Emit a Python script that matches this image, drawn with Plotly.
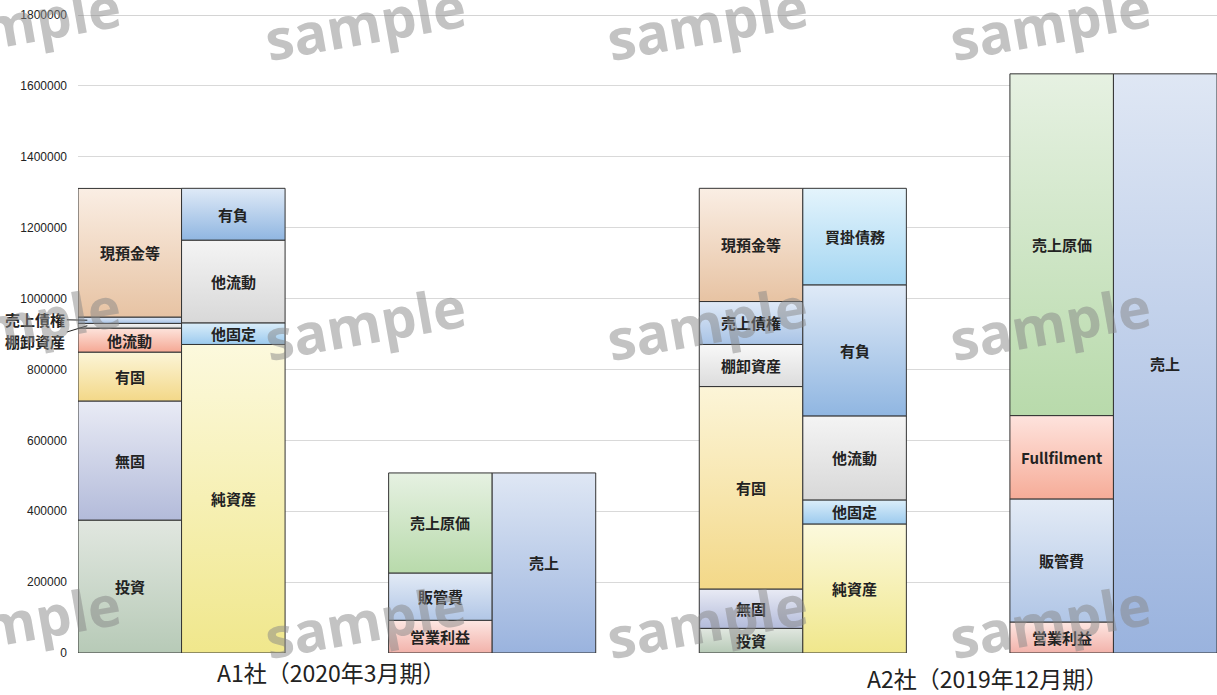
import plotly.graph_objects as go
import numpy as np

# ---- データ（単位：千円） ----
a1_assets_labels = ["投資", "無固", "有固", "他流動", "棚卸資産", "売上債権", "現預金等"]
a1_assets_values = [375000, 336000, 138000, 67700, 13300, 17800, 362900]

a1_liab_labels = ["純資産", "他固定", "他流動", "有負"]
a1_liab_values = [870500, 61000, 233400, 146100]

a1_cost_labels = ["営業利益", "販管費", "売上原価"]
a1_cost_values = [92300, 133500, 282200]

a1_sales_labels = ["売上"]
a1_sales_values = [508000]

a2_assets_labels = ["投資", "無固", "有固", "棚卸資産", "売上債権", "現預金等"]
a2_assets_values = [69600, 111000, 571100, 118800, 121100, 319400]

a2_liab_labels = ["純資産", "他固定", "他流動", "有負", "買掛債務"]
a2_liab_values = [364100, 67800, 237100, 369700, 272300]

a2_cost_labels = ["営業利益", "販管費", "Fullfilment", "売上原価"]
a2_cost_values = [87500, 347200, 235100, 964200]

a2_sales_labels = ["売上"]
a2_sales_values = [1634000]

company_labels = ["A1社（2020年3月期）", "A2社（2019年12月期）"]
y_ticks = [0, 200000, 400000, 600000, 800000, 1000000, 1200000, 1400000, 1600000, 1800000]

# 科目ごとのグラデーション（上端色, 下端色）
asset_colors = {
    "投資": ("#e1e7e0", "#b7cab7"),
    "無固": ("#e9ebf5", "#b3bbda"),
    "有固": ("#fcf5d8", "#f3d888"),
    "他流動": ("#fde4dc", "#f5a894"),
    "棚卸資産": ("#f8f8f8", "#dcdcdc"),
    "売上債権": ("#e0eaf7", "#a8c3e6"),
    "現預金等": ("#faeee4", "#e7c3a3"),
}
liab_colors = {
    "純資産": ("#fcf9dd", "#f0e78c"),
    "他固定": ("#dbeefa", "#9ccaee"),
    "他流動": ("#f4f4f4", "#d8d8d8"),
    "有負": ("#dfeaf7", "#90b6e1"),
    "買掛債務": ("#e4f4fc", "#a4d6f2"),
}
pl_colors = {
    "営業利益": ("#fde7e3", "#f2b2aa"),
    "販管費": ("#e3ebf6", "#b1c6e6"),
    "Fullfilment": ("#fee3dd", "#f6ac98"),
    "売上原価": ("#e6f1e2", "#b8daab"),
    "売上": ("#dfe7f4", "#9ab3de"),
}

# 各列の左端位置（列幅 = 1）
columns = [
    (0, a1_assets_labels, a1_assets_values, asset_colors),
    (1, a1_liab_labels, a1_liab_values, liab_colors),
    (3, a1_cost_labels, a1_cost_values, pl_colors),
    (4, a1_sales_labels, a1_sales_values, pl_colors),
    (6, a2_assets_labels, a2_assets_values, asset_colors),
    (7, a2_liab_labels, a2_liab_values, liab_colors),
    (9, a2_cost_labels, a2_cost_values, pl_colors),
    (10, a2_sales_labels, a2_sales_values, pl_colors),
]
outside_labels = {(0, "棚卸資産"), (0, "売上債権")}

label_font = dict(family="Noto Sans CJK JP", size=15, color="#222222", weight="bold")

fig = go.Figure()
annotations = []
segment_mid = {}

for left, labels, values, cmap in columns:
    tops = np.cumsum(values)
    bottoms = tops - np.array(values)
    for lab, b, t in zip(labels, bottoms, tops):
        top_c, bot_c = cmap[lab]
        fig.add_trace(go.Scatter(
            x=[left, left + 1, left + 1, left, left],
            y=[b, b, t, t, b],
            mode="lines",
            fill="toself",
            fillgradient=dict(type="vertical", colorscale=[[0, bot_c], [1, top_c]]),
            line=dict(color="#333333", width=1),
            hoverinfo="skip",
            showlegend=False,
        ))
        mid = (b + t) / 2
        segment_mid[(left, lab)] = mid
        if (left, lab) in outside_labels:
            continue
        annotations.append(dict(
            x=left + 0.5, y=mid, xref="x", yref="y", text=lab,
            showarrow=False, font=label_font,
        ))

# 薄い区分は外側に引き出し線付きで表示
annotations.append(dict(
    x=0.09, y=segment_mid[(0, "売上債権")], xref="x", yref="y",
    text="売上債権", showarrow=True, arrowhead=0, arrowwidth=1, arrowcolor="#222222",
    ax=-52, ay=-1, font=label_font,
))
annotations.append(dict(
    x=0.09, y=segment_mid[(0, "棚卸資産")], xref="x", yref="y",
    text="棚卸資産", showarrow=True, arrowhead=0, arrowwidth=1, arrowcolor="#222222",
    ax=-52, ay=16, font=label_font,
))

# 会社名ラベル
cat_font = dict(family="Noto Sans CJK JP", size=23, color="#222222")
annotations.append(dict(x=2.45, y=0, xref="x", yref="y", yanchor="middle", yshift=-19,
                        text=company_labels[0], showarrow=False, font=cat_font))
annotations.append(dict(x=8.78, y=0, xref="x", yref="y", yanchor="middle", yshift=-25,
                        text=company_labels[1], showarrow=False, font=cat_font))

# 透かし文字
W, H, L, T = 1139, 638, 78, 15
wm_x = [20, 365, 707, 1050]
wm_y = [22, 322, 620]
for py in wm_y:
    for px in wm_x:
        annotations.append(dict(
            x=(px - L) / W, y=1 - (py - T) / H, xref="paper", yref="paper",
            xanchor="center", yanchor="middle",
            text="sample", showarrow=False, textangle=-10, opacity=0.5,
            font=dict(family="Open Sans", size=56, color="#888888", weight="bold"),
        ))

fig.update_layout(
    width=1217, height=695,
    margin=dict(l=78, r=0, t=15, b=42),
    paper_bgcolor="white", plot_bgcolor="white",
    annotations=annotations,
    xaxis=dict(range=[0, 11], showgrid=False, zeroline=False, showticklabels=False,
               showline=False, fixedrange=True),
    yaxis=dict(range=[0, 1800000], tickvals=y_ticks, tickformat="d",
               showgrid=True, gridcolor="#d9d9d9", gridwidth=1, zeroline=False,
               showline=False, ticks="", ticklabelstandoff=10,
               tickfont=dict(family="Liberation Sans", size=12, color="#222222")),
    showlegend=False,
)
fig.add_hline(y=1800000, line=dict(color="#aaaaaa", width=1), layer="below")

fig.write_html("out.html")
